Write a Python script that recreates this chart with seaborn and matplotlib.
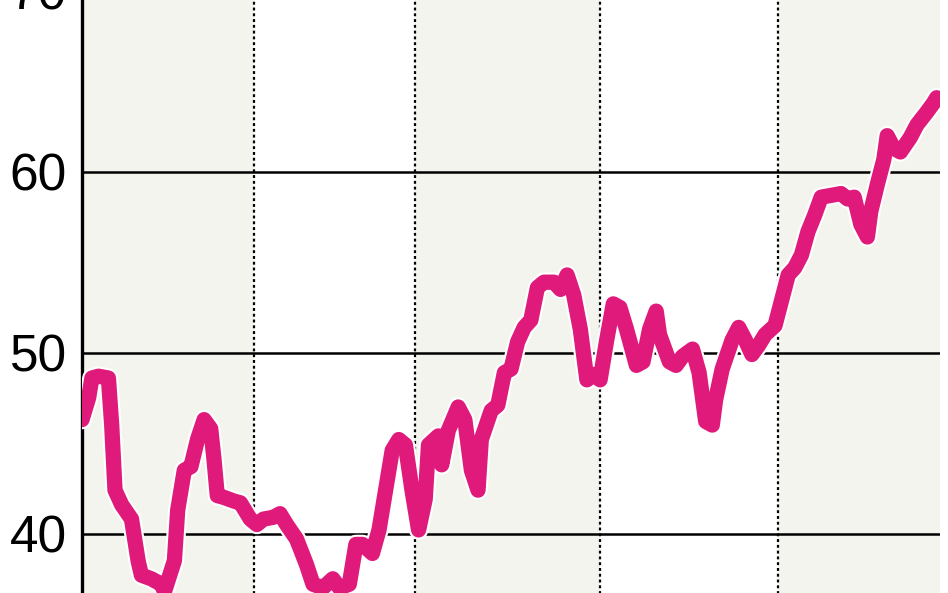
import numpy as np
import pandas as pd
import seaborn as sns
import matplotlib.pyplot as plt
import matplotlib.patheffects as pe

# weekly index (x) and index level (y)
weeks = [0, 2, 3, 5, 8, 9, 10, 12, 15, 17,
         18, 21, 24, 25, 28, 29, 31, 33, 35, 37,
         39, 40, 41, 43, 46, 48, 51, 53, 55, 58,
         60, 62, 65, 68, 70, 73, 76, 78, 81, 83,
         85, 88, 90, 92, 94, 96, 98, 100, 102, 104,
         105, 108, 109, 111, 114, 116, 118, 120, 121, 124,
         126, 128, 130, 132, 134, 136, 138, 140, 143, 145,
         147, 149, 151, 153, 155, 157, 159, 161, 163, 165,
         168, 170, 172, 174, 175, 178, 180, 182, 185, 187,
         189, 191, 192, 194, 197, 199, 201, 203, 205, 207,
         210, 212, 214, 216, 218, 220, 222, 224, 227, 230,
         232, 234, 236, 238, 239, 241, 243, 244, 246, 248,
         251, 253, 256, 258, 259]

values = [46.3, 47.5, 48.6, 48.7, 48.6, 46.0, 42.4, 41.6, 40.8, 38.5,
          37.7, 37.5, 37.2, 36.8, 38.5, 41.3, 43.5, 43.7, 45.2, 46.3,
          45.8, 44.1, 42.1, 42.0, 41.8, 41.7, 40.8, 40.5, 40.8, 40.9,
          41.1, 40.5, 39.7, 38.3, 37.2, 37.0, 37.5, 37.0, 37.2, 39.4,
          39.4, 38.9, 40.2, 42.4, 44.6, 45.2, 44.9, 42.4, 40.2, 41.9,
          44.9, 45.4, 43.8, 45.7, 47.0, 46.3, 43.5, 42.4, 45.2, 46.8,
          47.1, 48.9, 49.1, 50.6, 51.4, 51.8, 53.6, 53.9, 53.9, 53.5,
          54.3, 53.2, 51.3, 48.5, 48.8, 48.5, 50.7, 52.7, 52.5, 51.3,
          49.3, 49.5, 51.3, 52.3, 51.0, 49.5, 49.3, 49.8, 50.2, 48.9,
          46.2, 46.0, 47.4, 49.1, 50.7, 51.4, 50.7, 49.9, 50.4, 51.0,
          51.5, 52.9, 54.3, 54.7, 55.4, 56.7, 57.6, 58.6, 58.7, 58.8,
          58.5, 58.6, 57.1, 56.4, 57.8, 59.3, 60.7, 62.0, 61.3, 61.1,
          61.9, 62.6, 63.3, 63.8, 64.1]

# period boundaries (dotted lines) and y ticks
period_edges = [0, 52, 101, 157, 211, 260]
y_ticks = [40, 50, 60, 70]

df = pd.DataFrame({"week": weeks, "value": values})

sns.set_style("white")
plt.rcParams['font.family'] = ['Liberation Sans', 'DejaVu Sans']

fig = plt.figure(figsize=(9.48, 5.93), dpi=100)
ax = fig.add_axes([82 / 948, -31 / 593, 858 / 948, 633 / 593])
ax.set_facecolor("white")

# alternating shaded periods
for i in range(len(period_edges) - 1):
    if i % 2 == 0:
        ax.axvspan(period_edges[i], period_edges[i + 1], color="#f4f4ef", lw=0, zorder=0)

for x in period_edges[1:-1]:
    ax.axvline(x, color="black", lw=1.6, ls=(0, (1.3, 1.3)), zorder=1)

for y in y_ticks:
    ax.axhline(y, color="black", lw=1.8, zorder=1)

sns.lineplot(data=df, x="week", y="value", ax=ax, color="#e01a7b", linewidth=11,
             zorder=3, solid_capstyle="round", solid_joinstyle="round",
             path_effects=[pe.Stroke(linewidth=14, foreground="white"), pe.Normal()])

ax.set_xlim(0, 260)
ax.set_ylim(35, 70)
ax.set_yticks(y_ticks)
ax.set_xticks([])
ax.set_xlabel("")
ax.set_ylabel("")
ax.tick_params(axis="y", length=0, pad=11, labelsize=37, colors="black")

for side in ["top", "right", "bottom"]:
    ax.spines[side].set_visible(False)
ax.spines["left"].set_color("black")
ax.spines["left"].set_linewidth(2.4)

fig.savefig("out.png", dpi=100)
